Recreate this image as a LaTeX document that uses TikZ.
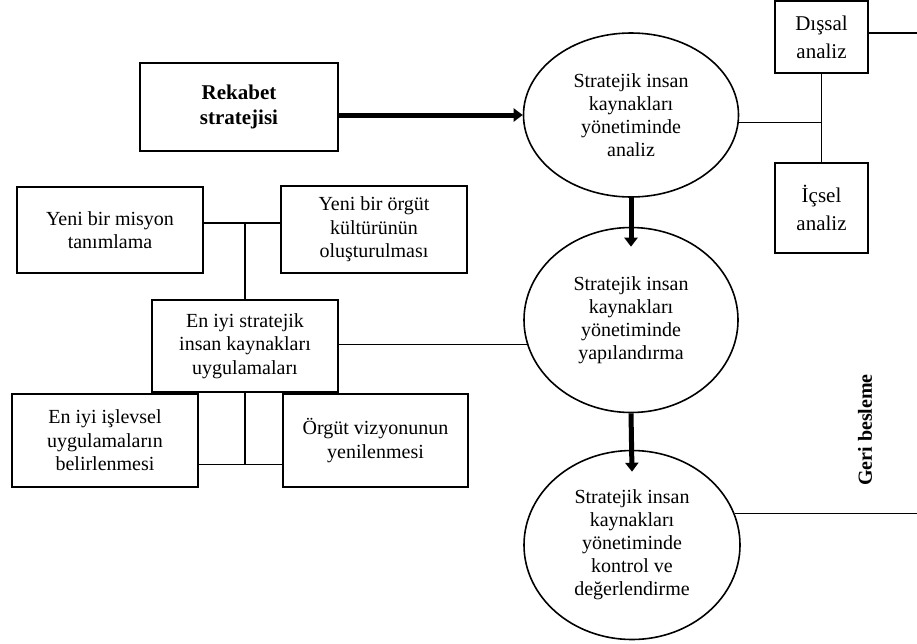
\documentclass[tikz,border=0pt]{standalone}
\usepackage{fontspec}
\setmainfont{Liberation Serif}
\usepackage{tikz}
\usetikzlibrary{arrows.meta}
\usetikzlibrary{shapes.geometric}

\tikzset{
  kutu/.style={draw, line width=2pt, rectangle, inner sep=0pt, align=center, font=\fontsize{20}{23.5}\selectfont},
  elips/.style={draw, line width=1.6pt, ellipse, inner sep=0pt, align=center, font=\fontsize{20}{23}\selectfont},
  baglanti/.style={line width=1.1pt},
  kalinok/.style={line width=5pt, -{Triangle[length=9pt,width=13pt]}},
}

\begin{document}
\begin{tikzpicture}[x=1pt,y=1pt]
    \useasboundingbox (0,0) rectangle (917,-643);
    \coordinate (sagkenar) at (917,0);

    \node[kutu, minimum width=198pt, minimum height=88pt, font=\fontsize{21}{25}\selectfont\bfseries] (rekabet) at (239,-107) {Rekabet\\stratejisi};

    \node[elips, minimum width=215pt, minimum height=164pt] (analiz) at (631,-115) {Stratejik insan\\kaynakları\\yönetiminde\\analiz};
    \node[elips, minimum width=214pt, minimum height=185pt] (yapilandirma) at (631,-320) {Stratejik insan\\kaynakları\\yönetiminde\\yapılandırma};
    \node[elips, minimum width=216pt, minimum height=189pt] (kontrol) at (632,-545) {Stratejik insan\\kaynakları\\yönetiminde\\kontrol ve\\değerlendirme};

    \node[kutu, minimum width=93pt, minimum height=72pt, font=\fontsize{21}{28}\selectfont] (disAnaliz) at (821.5,-37) {Dışsal\\analiz};
    \node[kutu, minimum width=93pt, minimum height=90pt, font=\fontsize{21}{28}\selectfont] (icAnaliz) at (821.5,-208) {İçsel\\analiz};

    \node[kutu, minimum width=186pt, minimum height=86pt] (misyon) at (110,-230) {Yeni bir misyon\\tanımlama};
    \node[kutu, minimum width=186pt, minimum height=87pt] (kultur) at (374,-229.5) {Yeni bir örgüt\\kültürünün\\oluşturulması};
    \node[kutu, minimum width=186pt, minimum height=92pt] (enIyi) at (245,-346) {En iyi stratejik\\insan kaynakları\\uygulamaları};
    \node[kutu, minimum width=186pt, minimum height=93pt] (islevsel) at (105,-440.5) {En iyi işlevsel\\uygulamaların\\belirlenmesi};
    \node[kutu, minimum width=185pt, minimum height=93pt] (vizyon) at (375.5,-440.5) {Örgüt vizyonunun\\yenilenmesi};

    \node[rotate=90, font=\fontsize{20}{23}\selectfont\bfseries] (geri) at (865,-430) {Geri besleme};

    \draw[kalinok] (rekabet.east |- analiz.west) -- (analiz.west);
    \draw[kalinok] (analiz.south) -- ([yshift=-20pt]yapilandirma.north);
    \draw[kalinok] (yapilandirma.south) -- ([yshift=-22pt]kontrol.north);

    \draw[baglanti] (disAnaliz.south) -- (icAnaliz.north);
    \draw[baglanti] (analiz.-4) -- (analiz.-4 -| disAnaliz.south);
    \draw[baglanti] ([yshift=4pt]disAnaliz.east) -- ([yshift=4pt]disAnaliz.east -| sagkenar);
    \draw[baglanti] (kontrol.17) -- (kontrol.17 -| sagkenar);

    \coordinate (ustHat) at ([yshift=7pt]misyon.east);
    \draw[baglanti] (ustHat) -- (ustHat -| kultur.west);
    \draw[baglanti] (ustHat -| enIyi.north) -- (enIyi.north);
    \draw[baglanti] (yapilandirma.193 -| enIyi.east) -- (yapilandirma.193);
    \coordinate (altHat) at ([yshift=-24pt]islevsel.east);
    \draw[baglanti] (altHat) -- (altHat -| vizyon.west);
    \draw[baglanti] (enIyi.south) -- (enIyi.south |- altHat);
\end{tikzpicture}
\end{document}
